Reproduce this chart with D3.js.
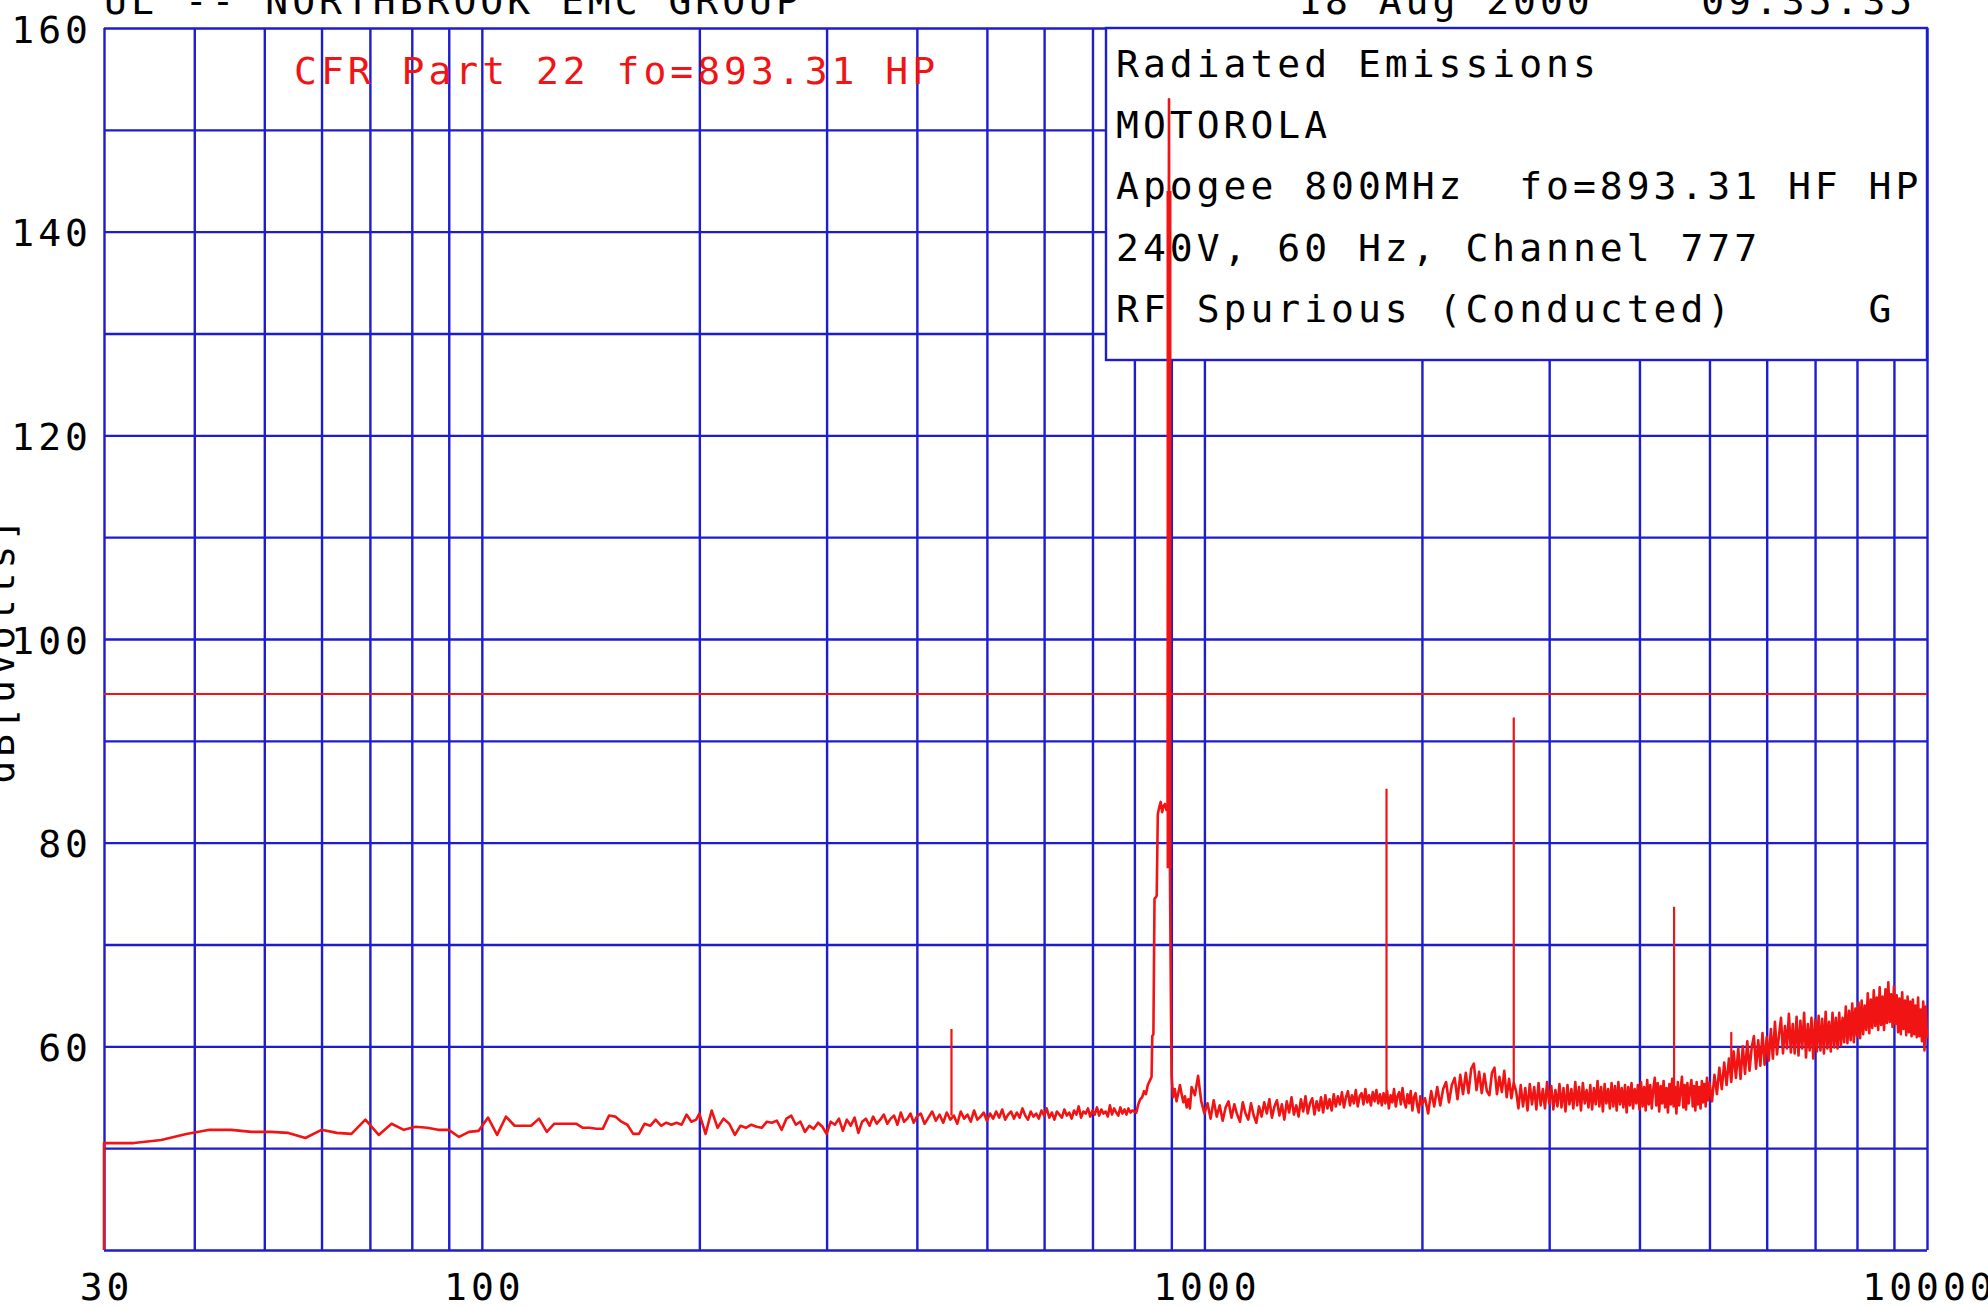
<!DOCTYPE html>
<html>
<head>
<meta charset="utf-8">
<script src="https://cdn.jsdelivr.net/npm/d3@7"></script>
<style>
  body { margin: 0; background: #fff; }
  svg { display: block; }
  text { font-family: "DejaVu Sans Mono", monospace; font-size: 38px; letter-spacing: 4px; white-space: pre; }
</style>
</head>
<body>
<script>
// ---- data ----
const gridFreqs = [30, 40, 50, 60, 70, 80, 90, 100, 200, 300, 400, 500, 600, 700, 800, 900,
  1000, 2000, 3000, 4000, 5000, 6000, 7000, 8000, 9000, 10000];
const gridLevels = [40, 50, 60, 70, 80, 90, 100, 110, 120, 130, 140, 150, 160];
const xLabels = [30, 100, 1000, 10000];
const yLabels = [60, 80, 100, 120, 140, 160];
const limitLevel = 94.6;

const headerLeft = "UL -- NORTHBROOK EMC GROUP";
const headerRight = "18 Aug 2000    09:35:35";
const limitTitle = "CFR Part 22 fo=893.31 HP";
const yTitle = "dB[uVolts]";
const legendLines = [
  "Radiated Emissions",
  "MOTOROLA",
  "Apogee 800MHz  fo=893.31 HF HP",
  "240V, 60 Hz, Channel 777",
  "RF Spurious (Conducted)     G"
];

// trace start (sweep begins from the floor)
const leadIn = [[30, 40]];

// sweep 30 - 198 MHz
const levelsA = [50.5,50.5,50.8,51.4,51.8,51.8,51.6,51.6,51.5,51.0,51.8,51.5,51.4,52.8,51.3,52.4,51.8,52.1,52.0,51.8,
  51.8,51.1,51.6,51.7,53.0,51.3,53.1,52.2,52.2,52.2,52.9,51.6,52.4,52.4,52.4,52.4,52.0,52.0,51.9,51.9,
  53.2,53.1,52.6,52.3,51.4,51.4,52.4,52.2,52.8,52.2,52.5,52.3,52.5,52.3,53.3,52.6,52.8];
// sweep 200 - 400 MHz
const levelsB = [53.4,51.4,53.7,52.0,52.9,52.4,51.3,52.2,52.0,52.3,52.1,52.0,52.6,52.5,52.7,51.8,52.9,53.2,52.3,52.6,
  51.6,52.2,51.9,52.5,52.1,51.4,52.6,52.3,52.9,51.7,52.8,52.2,53.0,51.5,52.6,52.9,52.2,53.1,52.4,52.8,
  53.3,52.4,52.9,53.2,52.3,53.5,52.6,52.9,53.4,52.5,53.1];
// sweep 405 - 800 MHz
const levelsC = [53.4,52.4,53.0,53.6,52.7,53.3,52.5,53.5,52.8,
  53.2,52.4,53.6,52.9,53.3,52.6,53.7,52.8,53.1,53.5,
  52.7,53.4,52.9,53.6,53.0,53.8,52.8,53.3,53.6,52.9,
  53.5,53.0,53.9,53.2,52.8,53.6,53.1,53.4,52.9,53.7,
  53.2,53.9,53.0,53.5,52.8,53.6,53.3,53.0,53.8,53.2,
  53.5,52.9,53.7,53.3,54.1,53.0,53.6,53.4,53.9,53.1,
  53.7,53.3,54.0,53.2,53.8,53.4,53.6,53.1,54.2,53.3,
  53.9,53.5,53.2,54.0,53.4,53.8,53.3,53.9,53.5,53.7,53.6];
// carrier skirt, read point by point
const carrierFreq = [805,810,815,820,825,830,835,840,845,847,850,853,856,859,862,866,870,874,878,882,886,890,
  893.31,896,899,901,905,910,915,920,925,930,935,940,945,950,955];
const carrierLevel = [53.5,54.3,54.8,55.0,55.6,55.3,56.2,56.6,57.0,61.0,61.2,74.5,74.6,74.8,82.8,83.5,84.0,83.0,83.6,83.8,83.2,83.5,
  153,77.5,63.3,57.0,55.0,55.8,54.6,55.4,56.2,55.3,54.5,55.1,54.0,54.8,53.9];
const carrierBand = [77.5, 144];
// sweep 960 - 2000 MHz
const levelsD = [56.0,55.2,57.1,54.6,53.4,
  54.4,52.9,54.7,53.1,54.2,52.7,54.0,54.6,53.0,54.3,53.3,52.6,54.5,53.4,52.8,54.4,53.2,52.5,54.1,53.1,
  54.5,53.4,54.8,53.0,54.1,54.7,53.2,54.3,52.8,54.6,53.5,55.0,53.3,54.2,53.1,54.8,53.6,55.1,53.4,54.4,
  54.9,53.3,54.6,53.7,55.0,53.5,55.2,53.9,54.8,53.7,
  55.3,54.1,55.1,54.3,55.5,54.0,55.0,55.6,54.2,55.2,54.4,55.7,54.1,55.1,55.4,54.3,55.8,54.5,55.2,54.2,
  55.5,54.6,55.7,54.4,55.3,
  54.2,55.4,54.4,55.6,53.9,55.2,54.5,55.8,54.1,55.1,55.5,54.3,55.9,54.6,54.0,55.3,54.4,55.6,53.7,55.0,
  55.4,54.2,53.5,55.1,54.3];
// sweep 2020 - 5000 MHz
const levelsE = [54.9,53.4,55.6,54.1,56.0,54.2,55.8,56.5,54.5,56.2,56.9,54.8,57.2,55.3,57.4,55.4,57.8,
  58.3,55.7,57.5,55.4,57.3,55.6,55.2,57.4,57.9,55.3,57.0,55.5,57.6,55.0,56.8,54.9,56.4,
  55.6,53.9,56.2,54.1,55.9,53.7,56.3,54.3,56.0,53.8,
  56.4,54.2,55.8,53.9,56.5,54.4,56.1,53.8,55.7,54.1,
  56.3,54.0,55.9,53.6,56.2,54.3,55.8,53.9,56.5,54.2,
  56.0,53.7,56.4,54.4,55.7,54.0,56.2,53.8,55.9,54.3,
  56.6,54.1,56.0,53.6,56.3,54.4,55.8,53.9,56.4,54.1,
  56.1,53.7,56.5,54.3,55.9,54.0,56.2,53.5,56.0,54.2,
  56.4,53.9,55.8,54.4,56.2,53.8,
  56.5,54.1,56.0,53.7,56.7,54.3,56.2,53.9,55.8,56.9,
  54.2,56.4,53.6,56.1,54.4,56.6,54.0,55.9,53.5,56.3,
  54.3,56.8,54.1,56.0,53.4,56.5,54.2,55.7,57.0,54.0,
  56.2,53.8,56.4,54.4,55.8,56.7,54.1,56.1,53.7,56.5,
  54.3,56.0,53.9,56.6,54.5,56.3,54.1,56.9,54.7,56.4];
// sweep 5040 - 10000 MHz
const levelsF = [54.6,57.2,55.3,57.9,55.8,58.4,56.2,58.8,56.5,59.5,56.9,59.8,
  56.8,60.0,57.3,60.5,57.6,59.9,61.0,57.8,60.6,58.1,61.3,58.2,60.9,
  58.6,61.7,58.8,62.4,59.2,61.1,62.8,59.3,62.0,59.8,63.2,59.4,
  62.2,59.3,62.9,59.1,62.5,59.8,63.3,58.9,62.2,59.6,62.8,58.8,62.6,
  59.5,63.0,59.6,62.7,59.3,63.4,59.8,62.4,59.5,63.3,59.9,62.8,
  59.8,63.3,60.1,62.8,60.4,63.9,60.3,63.5,60.6,64.2,60.4,63.7,61.0,
  64.3,60.8,64.5,61.2,64.0,61.6,65.2,61.3,64.6,61.8,65.5,62.0,
  64.8,61.6,65.8,62.1,64.9,61.6,65.6,62.3,66.3,62.4,65.1,61.9,65.9,
  62.2,65.0,61.4,64.7,61.2,65.3,61.7,64.5,61.1,64.9,61.4,64.4,
  61.0,64.6,61.2,64.0,60.9,64.8,61.0,63.6,60.5,64.4,59.6,63.9,60.8];

// harmonics / spurs
const spurFreq = [446.65, 1786.6, 2679.9, 4466.6, 5359.9];
const spurBase = [53.2, 55.0, 55.9, 55.3, 57.5];
const spurPeak = [61.7, 85.3, 92.3, 73.7, 61.4];

// ---- build the trace ----
const sweeps = [
  { start: 30, stop: 198, levels: levelsA },
  { start: 200, stop: 400, levels: levelsB },
  { start: 405, stop: 800, levels: levelsC },
  { start: 960, stop: 2000, levels: levelsD },
  { start: 2020, stop: 5000, levels: levelsE },
  { start: 5040, stop: 10000, levels: levelsF }
];
let trace = leadIn.slice();
sweeps.forEach(function(s) {
  const n = s.levels.length;
  s.levels.forEach(function(v, i) {
    trace.push([s.start + i * (s.stop - s.start) / (n - 1), v]);
  });
});
carrierFreq.forEach(function(f, i) { trace.push([f, carrierLevel[i]]); });
trace.sort(function(a, b) { return a[0] - b[0]; });

// ---- chart ----
const W = 1988, H = 1308;
const margin = { top: 28, right: 61, bottom: 58, left: 104 };
const blue = "#1c1cd0", red = "#f01414";

const svg = d3.select("body").append("svg")
  .attr("width", W).attr("height", H)
  .style("background", "#fff");

const x = d3.scaleLog().domain([30, 10000]).range([margin.left, W - margin.right]);
const y = d3.scaleLinear().domain([40, 160]).range([H - margin.bottom, margin.top]);
const plotW = W - margin.left - margin.right;
const plotH = H - margin.top - margin.bottom;

// grid
const gx = svg.append("g").attr("class", "xgrid")
  .attr("transform", "translate(0," + (H - margin.bottom) + ")")
  .call(d3.axisBottom(x).tickValues(gridFreqs).tickSize(-plotH).tickFormat(""));
const gy = svg.append("g").attr("class", "ygrid")
  .attr("transform", "translate(" + margin.left + ",0)")
  .call(d3.axisLeft(y).tickValues(gridLevels).tickSize(-plotW).tickFormat(""));
[gx, gy].forEach(function(g) {
  g.select(".domain").remove();
  g.selectAll("line").attr("stroke", blue).attr("stroke-width", 2.4);
});

// tick labels
const lx = svg.append("g")
  .attr("transform", "translate(2," + (H - 8) + ")")
  .call(d3.axisBottom(x).tickValues(xLabels).tickSize(0).tickPadding(0).tickFormat(d3.format("d")));
lx.select(".domain").remove();
lx.selectAll("text").attr("dy", 0).attr("fill", "#000")
  .style("font-family", "DejaVu Sans Mono").style("font-size", "38px");

const ly = svg.append("g")
  .attr("transform", "translate(92,0)")
  .call(d3.axisLeft(y).tickValues(yLabels).tickSize(0).tickPadding(0).tickFormat(d3.format("d")));
ly.select(".domain").remove();
ly.selectAll("text").attr("dy", "14").attr("fill", "#000")
  .style("font-family", "DejaVu Sans Mono").style("font-size", "38px");

// y title (mostly off the left edge)
svg.append("text")
  .attr("transform", "translate(14," + y(99) + ") rotate(-90)")
  .attr("text-anchor", "middle")
  .attr("fill", "#000")
  .text(yTitle);

// header (cut by the top edge, as in the original)
svg.append("text").attr("x", margin.left).attr("y", 14).attr("fill", "#000").text(headerLeft);
svg.append("text").attr("x", 1298).attr("y", 14).attr("fill", "#000").text(headerRight);

// limit line
svg.append("line")
  .attr("x1", x(30)).attr("x2", x(10000))
  .attr("y1", y(limitLevel)).attr("y2", y(limitLevel))
  .attr("stroke", red).attr("stroke-width", 2.2);

svg.append("text").attr("x", 294).attr("y", 84).attr("fill", red).text(limitTitle);

// legend box
const box = { x0: 1106, y0: margin.top, x1: W - margin.right, y1: 360 };
svg.append("rect")
  .attr("x", box.x0).attr("y", box.y0)
  .attr("width", box.x1 - box.x0).attr("height", box.y1 - box.y0)
  .attr("fill", "#fff").attr("stroke", blue).attr("stroke-width", 2.4);
svg.append("g").selectAll("text")
  .data(legendLines).enter().append("text")
  .attr("x", box.x0 + 10)
  .attr("y", function(d, i) { return 77 + i * 61.2; })
  .attr("fill", "#000")
  .text(function(d) { return d; });

// trace
const line = d3.line().x(function(d) { return x(d[0]); }).y(function(d) { return y(d[1]); });
svg.append("path")
  .datum(trace)
  .attr("d", line)
  .attr("fill", "none")
  .attr("stroke", red)
  .attr("stroke-width", 2.6)
  .attr("stroke-linejoin", "round");

// spurs
svg.append("g").selectAll("line")
  .data(spurFreq).enter().append("line")
  .attr("x1", function(d) { return x(d); }).attr("x2", function(d) { return x(d); })
  .attr("y1", function(d, i) { return y(spurBase[i]); })
  .attr("y2", function(d, i) { return y(spurPeak[i]); })
  .attr("stroke", red).attr("stroke-width", 2.2);

// carrier (heavy part)
svg.append("line")
  .attr("x1", x(893.31)).attr("x2", x(893.31))
  .attr("y1", y(carrierBand[0])).attr("y2", y(carrierBand[1]))
  .attr("stroke", red).attr("stroke-width", 5);
</script>
</body>
</html>
